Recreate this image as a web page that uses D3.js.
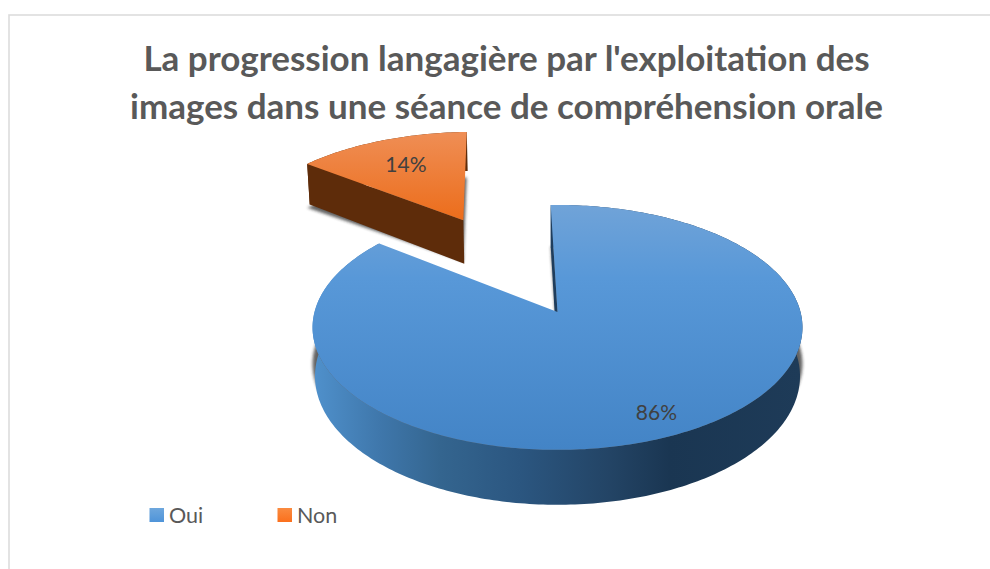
<!DOCTYPE html>
<html lang="fr">
<head>
  <meta charset="utf-8" />
  <title>La progression langagière</title>
  <script src="https://d3js.org/d3.v7.min.js"></script>
  <style>
    html, body { margin: 0; padding: 0; background: #fff; overflow: hidden; }
    svg { display: block; font-family: Lato, sans-serif; }
  </style>
</head>
<body>
  <svg id="chart" width="990" height="569"></svg>
  <script>
    var categories = ['Oui', 'Non'];
    var values = [86, 14];
    var valueLabels = ['86%', '14%'];
    var titleLines = ["La progression langagière par l'exploitation des", 'images dans une séance de compréhension orale'];

    // pie seen in perspective: k shrinks the far side, the rest is measured on the picture
    var k = 0.126;
    var depth = 48;
    var shadowDrop = 37;
    var explode = [0, 0.944];
    var labelRadius = [0.815, 0.68];
    var labelDrop = [12, 7];
    var topStops = [[[0, '#70a3d8'], [0.3, '#5898d8'], [1, '#4384c6']], [[0, '#ef8e55'], [1, '#ec6d1b']]];
    var wallColor = ['#1f3d5c', '#5e2c0a'];

    var svg = d3.select('#chart');
    var defs = svg.append('defs');

    var xScale = d3.scaleLinear().domain([-1, 1]).range([557.5 - 243, 557.5 + 243]);
    var yScale = d3.scaleLinear().domain([-1, 1]).range([312 + 120.5, 312 - 120.5]);

    var pie = d3.pie().sort(null).startAngle(-1.8 * Math.PI / 180).endAngle((360 - 1.8) * Math.PI / 180);
    var slices = pie(values);

    // disk coordinates -> screen. drop = 0 top face, 1 bottom rim, 2 shadow
    function project(u, v, drop) {
      var w = 1 + k * v;
      var x = xScale(u / w);
      var y = yScale(v / w);
      if (drop === 1) {
        x = xScale(0) + (x - xScale(0)) * 0.99;
        y = y + depth / w;
      }
      if (drop === 2) {
        y = y + shadowDrop * w;
      }
      return [x, y];
    }

    function polar(i, angle, r, drop) {
      var mid = (slices[i].startAngle + slices[i].endAngle) / 2;
      var u = explode[i] === 0 ? 0 : Math.sin(mid) * explode[i];
      var v = explode[i] === 0 ? 0 : Math.cos(mid) * explode[i];
      return project(u + r * Math.sin(angle), v + r * Math.cos(angle), drop);
    }

    function rim(slice, i, drop) {
      var n = Math.ceil((slice.endAngle - slice.startAngle) * 60);
      return d3.range(n + 1).map(function (j) {
        var a = slice.startAngle + (slice.endAngle - slice.startAngle) * j / n;
        return polar(i, a, 1, drop);
      });
    }

    var line = d3.line();

    // gradients
    topStops.forEach(function (stops, i) {
      var top = i === 0 ? 205 : 132;
      var bottom = i === 0 ? 450 : 220;
      var g = defs.append('linearGradient').attr('id', 'top' + i)
        .attr('gradientUnits', 'userSpaceOnUse')
        .attr('x1', 0).attr('x2', 0).attr('y1', top).attr('y2', bottom);
      stops.forEach(function (s) {
        g.append('stop').attr('offset', s[0]).attr('stop-color', s[1]);
      });
    });

    var sideStops = [[315, '#4f90cb'], [380, '#3f77ab'], [440, '#34658f'], [520, '#2b5680'], [610, '#234465'], [670, '#1a3652'], [800, '#1e3b58']];
    var side = defs.append('linearGradient').attr('id', 'side0')
      .attr('gradientUnits', 'userSpaceOnUse')
      .attr('x1', 315).attr('x2', 800).attr('y1', 0).attr('y2', 0);
    sideStops.forEach(function (s) {
      side.append('stop').attr('offset', (s[0] - 315) / 485).attr('stop-color', s[1]);
    });

    var legendStops = [['#6ea7dd', '#4f94d9'], ['#fa8b40', '#fb701d']];
    legendStops.forEach(function (stops, i) {
      var g = defs.append('linearGradient').attr('id', 'legend' + i)
        .attr('x1', 0).attr('x2', 0).attr('y1', 0).attr('y2', 1);
      g.append('stop').attr('offset', 0).attr('stop-color', stops[0]);
      g.append('stop').attr('offset', 1).attr('stop-color', stops[1]);
    });

    defs.append('filter').attr('id', 'blur')
      .attr('x', '-10%').attr('y', '-10%').attr('width', '120%').attr('height', '120%')
      .append('feGaussianBlur').attr('stdDeviation', 1.8);

    // frame runs off the right and bottom of the picture
    svg.append('rect')
      .attr('x', 9).attr('y', 15).attr('width', 1100).attr('height', 700)
      .attr('fill', 'none').attr('stroke', '#dcdcdc').attr('stroke-width', 1.6);

    // title
    svg.append('g').selectAll('text')
      .data(titleLines)
      .enter()
      .append('text')
      .attr('x', 506.5)
      .attr('y', function (d, i) { return 71 + i * 48; })
      .attr('text-anchor', 'middle')
      .attr('font-size', 35)
      .attr('font-weight', 700)
      .attr('fill', '#595959')
      .text(function (d) { return d; });

    // slices, back one first
    var order = [1, 0];
    order.forEach(function (i) {
      var slice = slices[i];
      var g = svg.append('g');

      // soft shadow under the slice
      var shadow = [polar(i, 0, 0, 2)].concat(rim(slice, i, 2));
      g.append('path')
        .attr('d', line(shadow) + 'Z')
        .attr('fill', '#222')
        .attr('opacity', 0.7)
        .attr('filter', 'url(#blur)');

      // outer wall
      var outerTop = rim(slice, i, 0);
      var outerBottom = rim(slice, i, 1).reverse();
      g.append('path')
        .attr('d', line(outerTop.concat(outerBottom)) + 'Z')
        .attr('fill', i === 0 ? 'url(#side0)' : wallColor[1]);

      // cut wall
      var a = slice.startAngle;
      g.append('path')
        .attr('d', line([
          polar(i, a, 0, 0),
          polar(i, a, 1, 0),
          polar(i, a, 1, 1),
          polar(i, a, 0, 1)
        ]) + 'Z')
        .attr('fill', wallColor[i]);

      // top face
      g.append('path')
        .attr('d', line([polar(i, 0, 0, 0)].concat(outerTop)) + 'Z')
        .attr('fill', 'url(#top' + i + ')');

      // value label
      var mid = (slice.startAngle + slice.endAngle) / 2;
      var p = polar(i, mid, labelRadius[i], 0);
      g.append('text')
        .attr('x', p[0])
        .attr('y', p[1] + labelDrop[i])
        .attr('text-anchor', 'middle')
        .attr('font-size', 21)
        .attr('fill', '#404040')
        .text(valueLabels[i]);
    });

    // legend
    var legendX = d3.scalePoint().domain(categories).range([149.5, 277.5]);
    var legend = svg.append('g').selectAll('g')
      .data(categories)
      .enter()
      .append('g')
      .attr('transform', function (d) { return 'translate(' + legendX(d) + ',508)'; });
    legend.append('rect')
      .attr('width', 14.5).attr('height', 14)
      .attr('fill', function (d, i) { return 'url(#legend' + i + ')'; });
    legend.append('text')
      .attr('x', 19.5).attr('y', 15)
      .attr('font-size', 21.5)
      .attr('fill', '#595959')
      .text(function (d) { return d; });
  </script>
</body>
</html>
